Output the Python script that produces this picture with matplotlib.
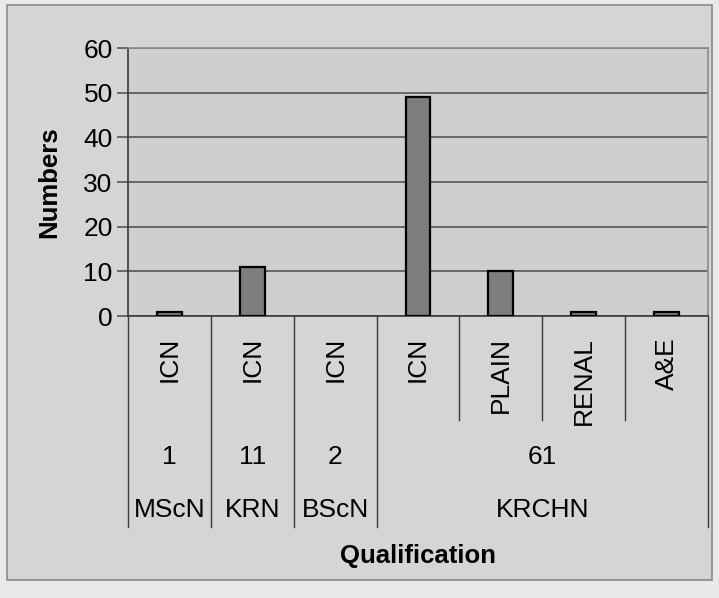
import matplotlib.pyplot as plt
from matplotlib.patches import Rectangle
from matplotlib.transforms import blended_transform_factory

plt.rcParams['font.family'] = ['Liberation Sans', 'DejaVu Sans']

# data
sub_labels = ['ICN', 'ICN', 'ICN', 'ICN', 'PLAIN', 'RENAL', 'A&E']
values = [1, 11, 0, 49, 10, 1, 1]
groups = ['MScN', 'KRN', 'BScN', 'KRCHN']
group_sizes = [1, 1, 1, 4]
group_counts = ['1', '11', '2', '61']
yticks = [0, 10, 20, 30, 40, 50, 60]

W, H = 719, 598
fig = plt.figure(figsize=(W / 100, H / 100), dpi=100, facecolor='#e9e9e9')

def fy(px):
    return (H - px) / H

# chart area box
box = Rectangle((7 / W, fy(580)), 705 / W, 575 / H, transform=fig.transFigure,
                facecolor='#d5d5d5', edgecolor='#8a8a8a', lw=1.2, zorder=-5)
fig.add_artist(box)

ax = fig.add_axes([128 / W, fy(316), 580 / W, 268 / H])
ax.set_facecolor('#cfcfcf')
x = list(range(len(values)))
lws = [1.6 if v > 0 else 0 for v in values]
ax.bar(x, values, width=0.3, color='#7d7d7d', edgecolor='black', linewidth=lws, zorder=3)
ax.set_xlim(-0.5, len(values) - 0.5)
ax.set_ylim(0, 60)
ax.set_yticks(yticks)
ax.yaxis.grid(True, color='#4a4a4a', lw=1.1, zorder=1)
ax.set_axisbelow(True)
ax.set_xticks([])
ax.tick_params(axis='y', length=8, width=1.1, color='#4a4a4a', labelsize=19, pad=3)
for s in ['top', 'right']:
    ax.spines[s].set_color('#8a8a8a')
    ax.spines[s].set_linewidth(1.2)
for s in ['left', 'bottom']:
    ax.spines[s].set_color('#3a3a3a')
    ax.spines[s].set_linewidth(1.2)
ax.set_ylabel('Numbers', fontsize=18.5, fontweight='bold', labelpad=16)

# hierarchical category axis
tr = blended_transform_factory(ax.transData, fig.transFigure)
for i, lab in enumerate(sub_labels):
    ax.text(i, fy(337), lab, rotation=90, ha='center', va='top', fontsize=19,
            transform=tr, clip_on=False)

short = [3.5, 4.5, 5.5]
start = 0
edges = [-0.5]
for g, n, c in zip(groups, group_sizes, group_counts):
    cx = start + (n - 1) / 2
    ax.text(cx, fy(457), c, ha='center', va='center', fontsize=19, transform=tr)
    ax.text(cx, fy(510), g, ha='center', va='center', fontsize=19, transform=tr)
    start += n
    edges.append(start - 0.5)

for e in edges:
    ax.plot([e, e], [fy(316), fy(527)], color='#3a3a3a', lw=1.0, transform=tr, clip_on=False)
for e in short:
    ax.plot([e, e], [fy(316), fy(420)], color='#3a3a3a', lw=1.0, transform=tr, clip_on=False)

fig.text(418 / W, fy(556), 'Qualification', ha='center', va='center', fontsize=18.5,
         fontweight='bold')

fig.savefig('out.png', dpi=100, facecolor=fig.get_facecolor())
